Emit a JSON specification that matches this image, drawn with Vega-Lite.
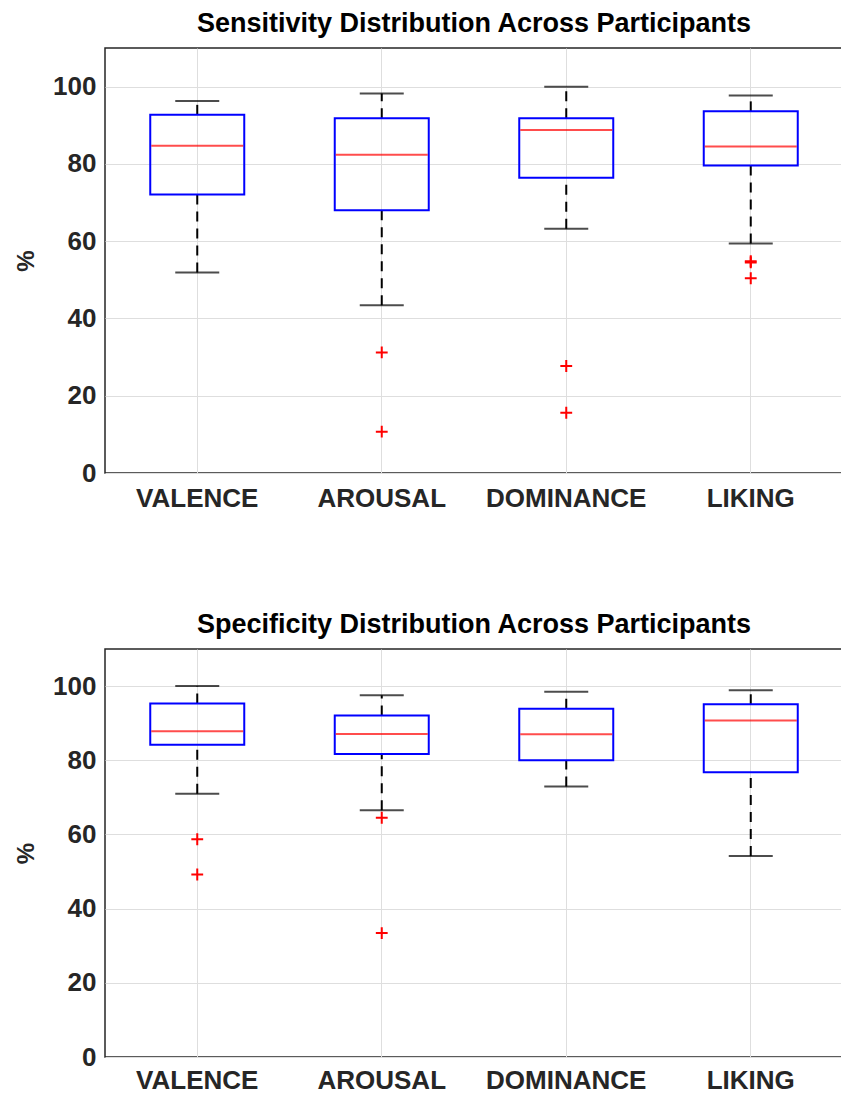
{
  "$schema": "https://vega.github.io/schema/vega-lite/v6.json",
  "background": "white",
  "padding": {"left": 13, "top": 9, "right": 0, "bottom": 0},
  "spacing": 98,
  "datasets": {
    "boxes": [
      {"panel": "sens", "cat": "VALENCE", "lo": 51.9, "q1": 72.1, "med": 84.7, "q3": 92.7, "hi": 96.3},
      {"panel": "sens", "cat": "AROUSAL", "lo": 43.4, "q1": 68.0, "med": 82.4, "q3": 91.8, "hi": 98.2},
      {"panel": "sens", "cat": "DOMINANCE", "lo": 63.2, "q1": 76.4, "med": 88.8, "q3": 91.8, "hi": 100.0},
      {"panel": "sens", "cat": "LIKING", "lo": 59.4, "q1": 79.6, "med": 84.5, "q3": 93.6, "hi": 97.7},
      {"panel": "spec", "cat": "VALENCE", "lo": 71.0, "q1": 84.2, "med": 87.8, "q3": 95.3, "hi": 100.0},
      {"panel": "spec", "cat": "AROUSAL", "lo": 66.5, "q1": 81.7, "med": 87.1, "q3": 92.1, "hi": 97.5},
      {"panel": "spec", "cat": "DOMINANCE", "lo": 72.9, "q1": 80.0, "med": 87.0, "q3": 93.9, "hi": 98.5},
      {"panel": "spec", "cat": "LIKING", "lo": 54.2, "q1": 76.8, "med": 90.7, "q3": 95.1, "hi": 98.9}
    ],
    "outliers": [
      {"panel": "sens", "cat": "AROUSAL", "v": 31.2},
      {"panel": "sens", "cat": "AROUSAL", "v": 10.7},
      {"panel": "sens", "cat": "DOMINANCE", "v": 27.7},
      {"panel": "sens", "cat": "DOMINANCE", "v": 15.6},
      {"panel": "sens", "cat": "LIKING", "v": 54.8},
      {"panel": "sens", "cat": "LIKING", "v": 54.5},
      {"panel": "sens", "cat": "LIKING", "v": 50.4},
      {"panel": "spec", "cat": "VALENCE", "v": 58.7},
      {"panel": "spec", "cat": "VALENCE", "v": 49.2},
      {"panel": "spec", "cat": "AROUSAL", "v": 64.5},
      {"panel": "spec", "cat": "AROUSAL", "v": 33.4}
    ]
  },
  "config": {
    "font": "Liberation Sans",
    "view": {"stroke": "#262626", "strokeWidth": 1.5},
    "axis": {
      "domain": false,
      "ticks": false,
      "grid": true,
      "gridColor": "#dedede",
      "gridWidth": 1,
      "labelFont": "Liberation Sans",
      "labelFontWeight": "bold",
      "labelFontSize": 26,
      "labelColor": "#262626",
      "titleFont": "Liberation Sans",
      "titleColor": "#262626"
    },
    "title": {"font": "Liberation Sans", "fontSize": 27, "fontWeight": "bold", "color": "#000000", "anchor": "middle"}
  },
  "vconcat": [
    {
      "width": 738,
      "height": 425,
      "title": {"text": "Sensitivity Distribution Across Participants", "offset": 10},
      "encoding": {
        "x": {"field": "cat", "type": "nominal", "sort": ["VALENCE", "AROUSAL", "DOMINANCE", "LIKING"],
              "scale": {"paddingInner": 0, "paddingOuter": 0},
              "axis": {"title": null, "labelAngle": 0, "labelPadding": 12, "bandPosition": 0.5}}
      },
      "layer": [
        {
          "data": {"name": "boxes"},
          "transform": [{"filter": "datum.panel === 'sens'"}],
          "layer": [
            {"mark": {"type": "rule", "color": "black", "strokeWidth": 2, "strokeDash": [10, 7]},
             "encoding": {"y": {"field": "lo", "type": "quantitative", "scale": {"domain": [0, 110], "nice": false}, "axis": {"values": [0, 20, 40, 60, 80, 100], "title": "%", "titleFontSize": 24, "titleFontWeight": "bold", "titlePadding": 14, "labelPadding": 9}}, "y2": {"field": "q1"}}},
            {"mark": {"type": "rule", "color": "black", "strokeWidth": 2, "strokeDash": [10, 7]},
             "encoding": {"y": {"field": "q3", "type": "quantitative"}, "y2": {"field": "hi"}}},
            {"mark": {"type": "tick", "color": "black", "size": 44, "thickness": 2},
             "encoding": {"y": {"field": "lo", "type": "quantitative"}}},
            {"mark": {"type": "tick", "color": "black", "size": 44, "thickness": 2},
             "encoding": {"y": {"field": "hi", "type": "quantitative"}}},
            {"mark": {"type": "bar", "fill": "transparent", "stroke": "#0000ff", "strokeWidth": 2, "size": 94},
             "encoding": {"y": {"field": "q1", "type": "quantitative"}, "y2": {"field": "q3"}}},
            {"mark": {"type": "tick", "color": "#ff0000", "size": 92, "thickness": 2},
             "encoding": {"y": {"field": "med", "type": "quantitative"}}}
          ]
        },
        {
          "data": {"name": "outliers"},
          "transform": [{"filter": "datum.panel === 'sens'"}],
          "mark": {"type": "point", "shape": "M-1,0L1,0M0,-1L0,1", "stroke": "#ff0000", "strokeWidth": 2, "filled": false, "size": 140, "opacity": 1},
          "encoding": {"y": {"field": "v", "type": "quantitative"}}
        }
      ]
    },
    {
      "width": 738,
      "height": 408,
      "title": {"text": "Specificity Distribution Across Participants", "offset": 10},
      "encoding": {
        "x": {"field": "cat", "type": "nominal", "sort": ["VALENCE", "AROUSAL", "DOMINANCE", "LIKING"],
              "scale": {"paddingInner": 0, "paddingOuter": 0},
              "axis": {"title": null, "labelAngle": 0, "labelPadding": 10, "bandPosition": 0.5}}
      },
      "layer": [
        {
          "data": {"name": "boxes"},
          "transform": [{"filter": "datum.panel === 'spec'"}],
          "layer": [
            {"mark": {"type": "rule", "color": "black", "strokeWidth": 2, "strokeDash": [10, 7]},
             "encoding": {"y": {"field": "lo", "type": "quantitative", "scale": {"domain": [0, 110], "nice": false}, "axis": {"values": [0, 20, 40, 60, 80, 100], "title": "%", "titleFontSize": 24, "titleFontWeight": "bold", "titlePadding": 14, "labelPadding": 9}}, "y2": {"field": "q1"}}},
            {"mark": {"type": "rule", "color": "black", "strokeWidth": 2, "strokeDash": [10, 7]},
             "encoding": {"y": {"field": "q3", "type": "quantitative"}, "y2": {"field": "hi"}}},
            {"mark": {"type": "tick", "color": "black", "size": 44, "thickness": 2},
             "encoding": {"y": {"field": "lo", "type": "quantitative"}}},
            {"mark": {"type": "tick", "color": "black", "size": 44, "thickness": 2},
             "encoding": {"y": {"field": "hi", "type": "quantitative"}}},
            {"mark": {"type": "bar", "fill": "transparent", "stroke": "#0000ff", "strokeWidth": 2, "size": 94},
             "encoding": {"y": {"field": "q1", "type": "quantitative"}, "y2": {"field": "q3"}}},
            {"mark": {"type": "tick", "color": "#ff0000", "size": 92, "thickness": 2},
             "encoding": {"y": {"field": "med", "type": "quantitative"}}}
          ]
        },
        {
          "data": {"name": "outliers"},
          "transform": [{"filter": "datum.panel === 'spec'"}],
          "mark": {"type": "point", "shape": "M-1,0L1,0M0,-1L0,1", "stroke": "#ff0000", "strokeWidth": 2, "filled": false, "size": 140, "opacity": 1},
          "encoding": {"y": {"field": "v", "type": "quantitative"}}
        }
      ]
    }
  ]
}
